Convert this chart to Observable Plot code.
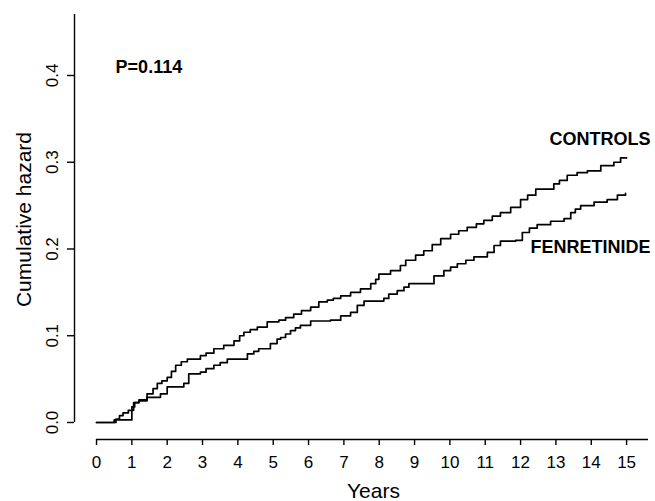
<!DOCTYPE html>
<html>
<head>
<meta charset="utf-8">
<script src="https://cdn.jsdelivr.net/npm/d3@7"></script>
<script src="https://cdn.jsdelivr.net/npm/@observablehq/plot@0.6"></script>
<style>
  html, body { margin: 0; padding: 0; background: #fff; }
  svg { display: block; }
</style>
</head>
<body>
<div id="chart"></div>
<script>
// ---- data ----
const controlsYears = [0, 0.55, 0.65, 0.75, 0.9, 1.05, 1.2, 1.43, 1.6, 1.72, 1.85, 2.0, 2.12, 2.24, 2.4, 2.57, 2.94, 3.1, 3.32, 3.6, 3.89, 4.05, 4.17, 4.35, 4.55, 4.83, 5.16, 5.35, 5.58, 5.8, 6.06, 6.29, 6.53, 6.7, 6.91, 7.19, 7.47, 7.76, 7.9, 7.99, 8.32, 8.6, 8.75, 9.03, 9.26, 9.5, 9.74, 10.02, 10.25, 10.49, 10.75, 10.96, 11.2, 11.43, 11.72, 12.0, 12.2, 12.43, 12.94, 13.1, 13.32, 13.6, 13.89, 14.27, 14.64, 14.83, 15.0];
const controlsHazard = [0, 0.004, 0.008, 0.011, 0.014, 0.023, 0.026, 0.033, 0.039, 0.045, 0.048, 0.052, 0.059, 0.066, 0.070, 0.073, 0.077, 0.080, 0.085, 0.089, 0.094, 0.100, 0.104, 0.107, 0.110, 0.116, 0.118, 0.121, 0.125, 0.129, 0.133, 0.139, 0.141, 0.143, 0.146, 0.150, 0.154, 0.160, 0.165, 0.171, 0.175, 0.181, 0.187, 0.193, 0.198, 0.205, 0.212, 0.217, 0.221, 0.225, 0.229, 0.233, 0.238, 0.242, 0.248, 0.257, 0.262, 0.269, 0.275, 0.279, 0.285, 0.288, 0.290, 0.296, 0.300, 0.305, 0.305];

const fenretinideYears = [0, 0.5, 1.0, 1.08, 1.2, 1.43, 1.81, 2.0, 2.47, 2.61, 2.94, 3.1, 3.32, 3.5, 3.7, 4.27, 4.45, 4.59, 4.92, 5.11, 5.21, 5.35, 5.49, 5.63, 5.77, 6.06, 6.62, 6.91, 7.19, 7.38, 7.57, 8.13, 8.27, 8.51, 8.7, 8.84, 9.36, 9.55, 9.83, 10.02, 10.21, 10.45, 10.68, 11.06, 11.25, 11.43, 11.86, 12.05, 12.25, 12.47, 12.85, 13.23, 13.42, 13.55, 13.70, 14.08, 14.45, 14.74, 14.97];
const fenretinideHazard = [0, 0.003, 0.018, 0.023, 0.025, 0.029, 0.033, 0.041, 0.045, 0.056, 0.058, 0.062, 0.066, 0.069, 0.073, 0.079, 0.082, 0.085, 0.091, 0.096, 0.098, 0.102, 0.106, 0.109, 0.112, 0.117, 0.118, 0.123, 0.127, 0.135, 0.140, 0.143, 0.148, 0.152, 0.156, 0.160, 0.160, 0.169, 0.175, 0.179, 0.183, 0.187, 0.191, 0.196, 0.204, 0.209, 0.210, 0.219, 0.224, 0.228, 0.232, 0.235, 0.242, 0.246, 0.250, 0.254, 0.257, 0.262, 0.264];

const xTicks = [0, 1, 2, 3, 4, 5, 6, 7, 8, 9, 10, 11, 12, 13, 14, 15];
const yTicks = [0, 0.1, 0.2, 0.3, 0.4];

const labelText = ["P=0.114", "CONTROLS", "FENRETINIDE"];
const labelX = [0.54, 15.68, 15.68];
const labelY = [0.409, 0.326, 0.202];
const labelAnchor = ["start", "end", "end"];

// ---- build tables ----
const controls = controlsYears.map((t, i) => ({t, h: controlsHazard[i]}));
const fenretinide = fenretinideYears.map((t, i) => ({t, h: fenretinideHazard[i]}));
const labels = labelText.map((s, i) => ({s, x: labelX[i], y: labelY[i], a: labelAnchor[i]}));

// scale extents (layout)
const xMin = -0.623, xMax = 15.62;
const yMin = -0.0196, yMax = 0.4703;
const font = "'Liberation Sans', Arial, Helvetica, sans-serif";

const chart = Plot.plot({
  width: 655,
  height: 501,
  marginLeft: 74,
  marginRight: 7,
  marginTop: 14,
  marginBottom: 62,
  style: {fontFamily: font, fontSize: "17px", color: "#000", background: "#fff"},
  x: {domain: [xMin, xMax]},
  y: {domain: [yMin, yMax]},
  marks: [
    // axis lines
    Plot.ruleY([yMin], {x1: 0, x2: xMax, stroke: "#000", strokeWidth: 1.4}),
    Plot.ruleX([xMin], {y1: 0, y2: yMax, stroke: "#000", strokeWidth: 1.4}),
    Plot.axisX({ticks: xTicks, tickSize: 6, tickPadding: 10, fontSize: 17, label: null, strokeWidth: 1.4, tickFormat: d3.format("d")}),
    Plot.axisY({ticks: yTicks, tickSize: 7, label: null, strokeWidth: 1.4, tickFormat: () => ""}),
    Plot.text(yTicks, {y: d => d, frameAnchor: "left", text: d3.format(".1f"), rotate: -90, dx: -22, fontSize: 17, textAnchor: "middle", lineAnchor: "middle"}),
    // axis titles
    Plot.text(["Cumulative hazard"], {frameAnchor: "left", rotate: -90, dx: -50, dy: -7.5, fontSize: 21, textAnchor: "middle", lineAnchor: "middle"}),
    Plot.text(["Years"], {frameAnchor: "bottom", dx: 12, dy: 51.5, fontSize: 21, textAnchor: "middle", lineAnchor: "middle"}),
    // curves
    Plot.line(controls, {x: "t", y: "h", curve: "step-after", stroke: "#000", strokeWidth: 1.7}),
    Plot.line(fenretinide, {x: "t", y: "h", curve: "step-after", stroke: "#000", strokeWidth: 1.7}),
    // annotations
    Plot.text(labels.filter(d => d.a === "start"), {x: "x", y: "y", text: "s", textAnchor: "start", lineAnchor: "middle", fontSize: 18, fontWeight: "bold"}),
    Plot.text(labels.filter(d => d.a === "end"), {x: "x", y: "y", text: "s", textAnchor: "end", lineAnchor: "middle", fontSize: 18, fontWeight: "bold"})
  ]
});
document.getElementById("chart").appendChild(chart);
</script>
</body>
</html>
